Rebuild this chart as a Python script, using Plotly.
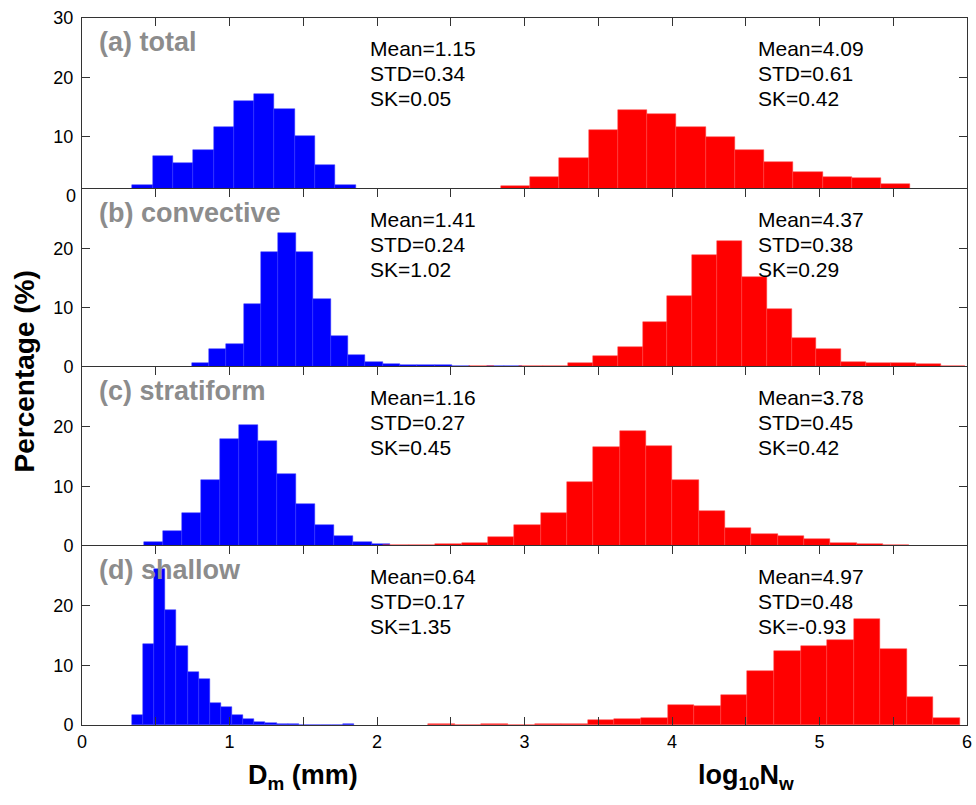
import numpy as np
import plotly.graph_objects as go

# ---------------- data ----------------
panel_names = ["(a) total", "(b) convective", "(c) stratiform", "(d) shallow"]

# Dm histograms (blue): first bin left edge, bin width, percentages
dm_start = [0.341, 0.743, 0.422, 0.339]
dm_width = [0.1377, 0.1178, 0.1284, 0.0754]
dm_total = [1.9, 6.8, 5.5, 7.8, 11.6, 16.0, 17.2, 14.7, 10.2, 5.3, 1.9]
dm_conv = [0.6, 3.0, 3.9, 10.7, 19.4, 22.6, 19.3, 11.5, 5.3, 2.1, 0.85, 0.5,
           0.3, 0.3, 0.3, 0.2, 0.0, 0.2, 0.2]
dm_strat = [0.67, 2.5, 5.5, 11.0, 18.0, 20.2, 17.6, 12.0, 7.1, 3.6, 1.7, 0.67, 0.3]
dm_shal = [1.74, 13.6, 26.1, 19.3, 13.2, 8.8, 7.7, 3.7, 3.0, 1.6, 1.06, 0.56,
           0.33, 0.2, 0.2, 0.0, 0.0, 0.0, 0.0, 0.2]

# log10Nw histograms (red)
nw_start = [2.839, 2.623, 2.038, 2.347]
nw_width = [0.1984, 0.1683, 0.1786, 0.1803]
nw_total = [1.7, 3.2, 6.5, 11.1, 14.5, 13.9, 11.6, 9.95, 7.8, 5.7, 4.1, 3.2, 3.0, 2.0]
nw_conv = [0.2, 0.0, 0.2, 0.2, 0.6, 1.8, 3.4, 7.6, 12.0, 18.8, 21.2, 15.1,
           9.8, 4.9, 3.1, 0.8, 0.6, 0.6, 0.45, 0.25]
nw_strat = [0.15, 0.15, 0.3, 0.55, 1.45, 3.5, 5.6, 10.8, 16.6, 19.3, 16.8, 11.0,
            5.9, 3.1, 2.0, 1.6, 1.1, 0.55, 0.3, 0.2]
nw_shal = [0.2, 0.0, 0.2, 0.0, 0.25, 0.25, 0.9, 1.05, 1.17, 3.4, 3.2, 5.0, 9.0,
           12.4, 13.2, 14.2, 17.8, 12.8, 4.7, 1.17]

# statistics
dm_mean = [1.15, 1.41, 1.16, 0.64]
dm_std = [0.34, 0.24, 0.27, 0.17]
dm_sk = [0.05, 1.02, 0.45, 1.35]
nw_mean = [4.09, 4.37, 3.78, 4.97]
nw_std = [0.61, 0.38, 0.45, 0.48]
nw_sk = [0.42, 0.29, 0.42, -0.93]

dm_sets = [dm_total, dm_conv, dm_strat, dm_shal]
nw_sets = [nw_total, nw_conv, nw_strat, nw_shal]

# ---------------- layout geometry ----------------
W, H = 976, 805
ML, MR, MT, MB = 82, 9, 18, 80
PW = W - ML - MR
PH = H - MT - MB
# panel boundaries (pixels from top of plot area)
bounds_px = [0, 171, 349, 528, 707]
domains = [[1 - bounds_px[i + 1] / PH, 1 - bounds_px[i] / PH] for i in range(4)]
yranges = [[1.2, 30], [0, 30], [0, 30], [0, 30]]

FONT = "Arial, Liberation Sans, sans-serif"
AX_COLOR = "#333333"

fig = go.Figure()

def hist_trace(start, width, vals, color, edge, k):
    left = start + width * np.arange(len(vals))
    centers = left + width / 2
    return go.Bar(x=centers, y=vals, width=[width] * len(vals),
                  marker=dict(color=color, line=dict(color=edge, width=0.5)),
                  xaxis=f"x{k}" if k > 1 else "x", yaxis=f"y{k}" if k > 1 else "y",
                  showlegend=False, hoverinfo="skip")

for i in range(4):
    k = i + 1
    fig.add_trace(hist_trace(dm_start[i], dm_width[i], dm_sets[i], "#0000ff", "#3535ff", k))
    fig.add_trace(hist_trace(nw_start[i], nw_width[i], nw_sets[i], "#ff0000", "#ff4040", k))

layout = dict(width=W, height=H, margin=dict(l=ML, r=MR, t=MT, b=MB, autoexpand=False),
              template="none",
              plot_bgcolor="white", paper_bgcolor="white", barmode="overlay",
              bargap=0, font=dict(family=FONT, size=18, color="black"),
              showlegend=False)

annotations = []
for i in range(4):
    k = i + 1
    sfx = str(k) if k > 1 else ""
    last = (i == 3)
    xa = dict(range=[0, 6], domain=[0, 1], anchor="y" + sfx, automargin=False,
              showgrid=False, zeroline=False, showline=True, linecolor=AX_COLOR,
              linewidth=1, ticks="inside", ticklen=8, tickcolor=AX_COLOR,
              tickmode="linear", tick0=0, dtick=1,
              minor=dict(dtick=0.5, tick0=0, ticks="inside", ticklen=8,
                         tickcolor=AX_COLOR, showgrid=False),
              tickfont=dict(size=18, family=FONT, color="black"))
    if last:
        xa.update(side="bottom", mirror="ticks", showticklabels=True)
    else:
        xa.update(side="top", mirror=False, showticklabels=False)
    ytv = [10, 20, 30] if i == 0 else [0, 10, 20]
    ya = dict(range=yranges[i], domain=domains[i], anchor="x" + sfx, automargin=False,
              showgrid=False, zeroline=False, showline=True, linecolor=AX_COLOR,
              linewidth=1, ticks="inside", ticklen=8, tickcolor=AX_COLOR,
              mirror="ticks", tickvals=ytv, ticklabelstandoff=4,
              tickfont=dict(size=18, family=FONT, color="black"))
    layout["xaxis" + sfx] = xa
    layout["yaxis" + sfx] = ya

    ph = (bounds_px[i + 1] - bounds_px[i])
    xr = "x" + sfx + " domain"
    yr = "y" + sfx + " domain"
    # panel label
    annotations.append(dict(text=panel_names[i], xref=xr, yref=yr,
                            x=15 / PW, y=1 - 24 / ph, xanchor="left", yanchor="middle",
                            showarrow=False,
                            font=dict(size=27, family=FONT, color="#8c8c8c", weight="bold")))
    # stats
    for j, (lab, dv, nv) in enumerate([("Mean", dm_mean[i], nw_mean[i]),
                                       ("STD", dm_std[i], nw_std[i]),
                                       ("SK", dm_sk[i], nw_sk[i])]):
        yy = 1 - (30 + 25 * j) / ph
        annotations.append(dict(text=f"{lab}={dv:.2f}", xref=xr, yref=yr,
                                x=(368 - ML) / PW, y=yy, xanchor="left", yanchor="middle",
                                showarrow=False, font=dict(size=21, family=FONT, color="black")))
        annotations.append(dict(text=f"{lab}={nv:.2f}", xref=xr, yref=yr,
                                x=(756 - ML) / PW, y=yy, xanchor="left", yanchor="middle",
                                showarrow=False, font=dict(size=21, family=FONT, color="black")))

# "0" tick label of panel (a), hidden below the overlapping panel (b)
annotations.append(dict(text="0", xref="paper", yref="y domain", x=0,
                        y=(0 - yranges[0][0]) / (yranges[0][1] - yranges[0][0]),
                        xanchor="right", yanchor="middle", xshift=-4, showarrow=False,
                        font=dict(size=18, family=FONT, color="black")))

# axis titles
annotations.append(dict(text="D<sub>m</sub> (mm)", xref="x4", yref="paper", x=1.5, y=0,
                        yshift=-52, xanchor="center", yanchor="middle", showarrow=False,
                        font=dict(size=27, family=FONT, color="black", weight="bold")))
annotations.append(dict(text="log<sub>10</sub>N<sub>w</sub>", xref="x4", yref="paper", x=4.5, y=0,
                        yshift=-52, xanchor="center", yanchor="middle", showarrow=False,
                        font=dict(size=27, family=FONT, color="black", weight="bold")))
annotations.append(dict(text="Percentage (%)", xref="paper", yref="paper", x=0, y=0.5,
                        xshift=-(ML - 24), xanchor="center", yanchor="middle", textangle=-90,
                        showarrow=False,
                        font=dict(size=28, family=FONT, color="black", weight="bold")))

layout["annotations"] = annotations
fig.update_layout(**layout)
fig.write_html("out.html", config={"displayModeBar": False},
               post_script="document.body.style.margin='0';document.body.style.overflow='hidden';")
